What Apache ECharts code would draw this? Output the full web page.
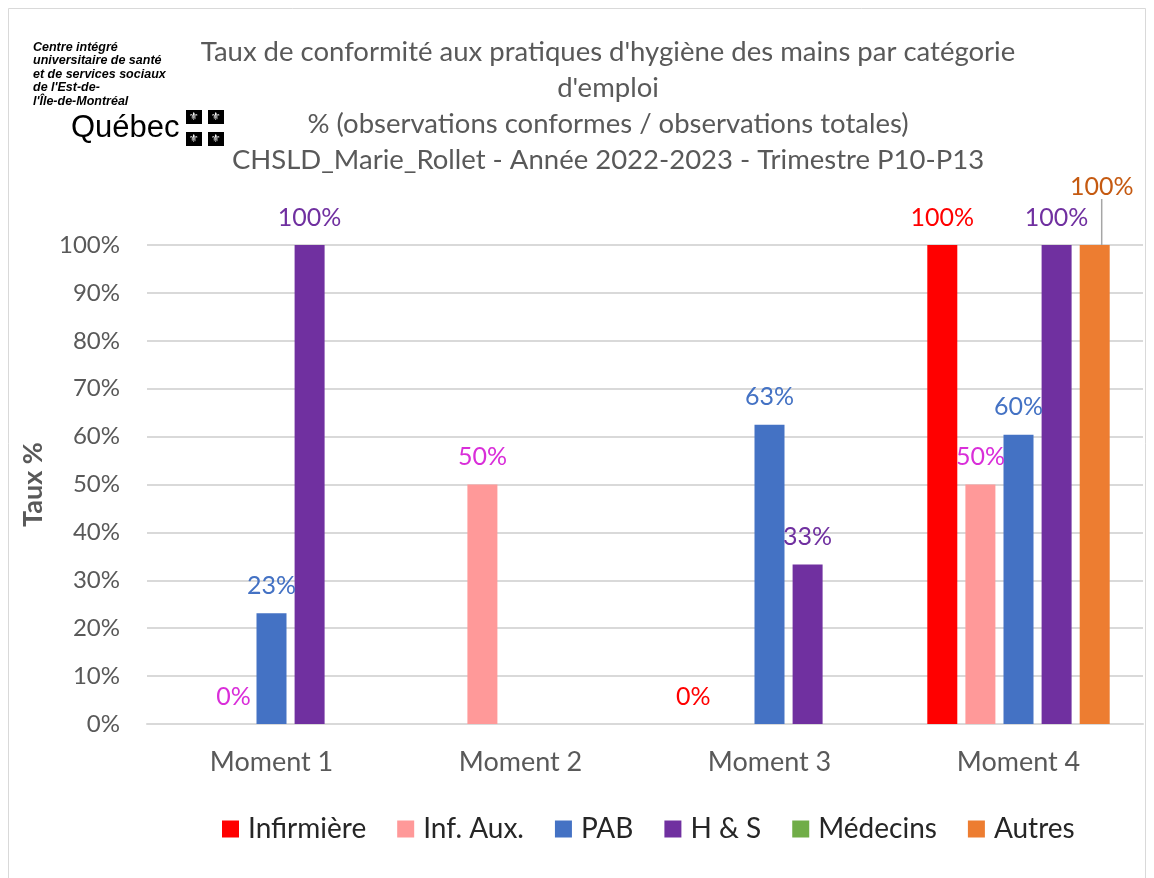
<!DOCTYPE html>
<html>
<head>
<meta charset="utf-8">
<script src="https://cdn.jsdelivr.net/npm/echarts@6/dist/echarts.min.js"></script>
<style>
html,body{margin:0;padding:0;background:#fff;}
#chart{width:1154px;height:878px;}
</style>
</head>
<body>
<div id="chart"></div>
<script>
const categories = ['Moment 1', 'Moment 2', 'Moment 3', 'Moment 4'];
const legendNames = ['Infirmière', 'Inf. Aux.', 'PAB', 'H & S', 'Médecins', 'Autres'];
const infirmiere = [null, null, 0, 100];
const infAux = [0, 50, null, 50];
const pab = [23.1, null, 62.5, 60.4];
const hs = [100, null, 33.3, 100];
const medecins = [null, null, null, null];
const autres = [null, null, null, 100];
const yTicks = [0, 10, 20, 30, 40, 50, 60, 70, 80, 90, 100];
const titleLines = [
  "Taux de conformité aux pratiques d'hygiène des mains par catégorie",
  "d'emploi",
  "% (observations conformes / observations totales)",
  "CHSLD_Marie_Rollet - Année 2022-2023 - Trimestre P10-P13"
];
const logoLines = ['Centre intégré', 'universitaire de santé', 'et de services sociaux', "de l'Est-de-", "l'Île-de-Montréal"];

const FONT = 'Lato, "Open Sans", sans-serif';
const chart = echarts.init(document.getElementById('chart'));

function barSeries(name, data, color, labelColor, extra) {
  return Object.assign({
    name: name,
    type: 'bar',
    data: data,
    barWidth: 30,
    barGap: '27%',
    itemStyle: { color: color },
    label: {
      show: true,
      position: 'top',
      distance: 15,
      color: labelColor,
      fontFamily: FONT,
      fontSize: 25,
      formatter: p => Math.round(p.value) + '%'
    }
  }, extra || {});
}

const logoGraphics = [];
logoLines.forEach((t, i) => {
  logoGraphics.push({
    type: 'text', left: 33, top: 41 + i * 13.5,
    style: { text: t, font: 'italic bold 12.5px "Liberation Sans Narrow", "Liberation Sans", sans-serif', fill: '#000' }
  });
});
logoGraphics.push({
  type: 'text', left: 71, top: 113,
  style: { text: 'Québec', font: '31px "Liberation Sans", sans-serif', fill: '#000' }
});
[[186,110],[208,110],[186,132],[208,132]].forEach(p => {
  logoGraphics.push({ type: 'rect', shape: { x: p[0], y: p[1], width: 16, height: 14 }, style: { fill: '#000' } });
  logoGraphics.push({ type: 'text', x: p[0] + 8, y: p[1] + 7,
    style: { text: '⚜', font: '11px "DejaVu Sans"', fill: '#fff', align: 'center', verticalAlign: 'middle' } });
});
logoGraphics.push({ type: 'rect', silent: true, shape: { x: 8.5, y: 8.5, width: 1137, height: 900 },
  style: { fill: 'none', stroke: '#d9d9d9', lineWidth: 1 } });

chart.setOption({
  animation: false,
  backgroundColor: '#fff',
  title: {
    text: titleLines.join('\n'),
    left: 603,
    textAlign: 'center',
    top: 29,
    textStyle: { fontFamily: FONT, fontSize: 27.5, fontWeight: 'normal', color: '#595959', lineHeight: 36 }
  },
  graphic: logoGraphics,
  legend: {
    data: legendNames,
    left: 217,
    top: 810,
    icon: 'rect',
    itemWidth: 17,
    itemHeight: 17,
    itemGap: 31,
    textStyle: { fontFamily: FONT, fontSize: 28, color: '#262626', padding: [0, 0, 0, 4] }
  },
  grid: { left: 147, right: 11, top: 245, bottom: 154 },
  xAxis: {
    type: 'category',
    data: categories,
    axisTick: { show: false },
    axisLine: { lineStyle: { color: '#d9d9d9', width: 2 } },
    axisLabel: { fontFamily: FONT, fontSize: 27, color: '#595959', margin: 25 }
  },
  yAxis: {
    type: 'value',
    min: 0, max: 100, interval: 10,
    name: 'Taux %',
    nameLocation: 'middle',
    nameRotate: 90,
    nameGap: 100,
    nameTextStyle: { fontFamily: FONT, fontSize: 27, fontWeight: 'bold', color: '#595959' },
    axisLabel: { fontFamily: FONT, fontSize: 24, color: '#595959', margin: 27, formatter: v => yTicks.includes(v) ? v + '%' : '' },
    splitLine: { lineStyle: { color: '#d9d9d9', width: 2 } }
  },
  series: [
    barSeries('Infirmière', infirmiere, '#FF0000', '#FF0000'),
    barSeries('Inf. Aux.', infAux, '#FF9999', '#D92ED9'),
    barSeries('PAB', pab, '#4472C4', '#4472C4'),
    barSeries('H & S', hs, '#7030A0', '#7030A0'),
    barSeries('Autres', autres, '#ED7D31', '#C55A11', {
      label: {
        show: true, position: 'top', distance: 6, color: '#C55A11',
        fontFamily: FONT, fontSize: 25, formatter: p => Math.round(p.value) + '%'
      },
      labelLayout: { dx: 7, dy: -40 },
      labelLine: { show: true, lineStyle: { color: '#a6a6a6', width: 1.5 } }
    }),
    { name: 'Médecins', type: 'line', data: medecins, itemStyle: { color: '#70AD47' }, lineStyle: { color: '#70AD47' }, symbol: 'none' }
  ]
});
</script>
</body>
</html>
